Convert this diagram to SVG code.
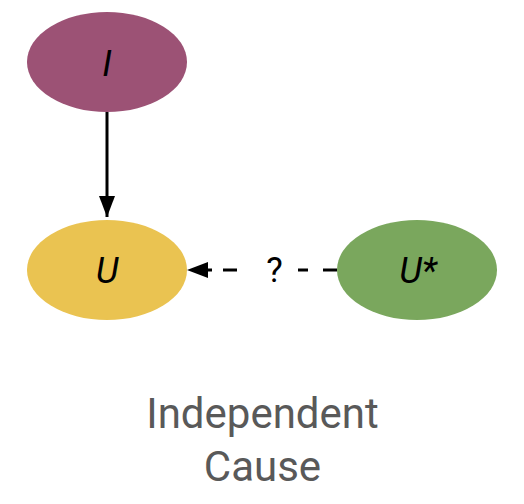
<svg xmlns="http://www.w3.org/2000/svg" width="524" height="504" viewBox="0 0 524 504">
  <defs>
    <style>
      .lbl { font-family: Roboto, "Liberation Sans", sans-serif; font-style: italic; font-size: 36px; fill: #000; text-anchor: middle; }
      .edge { stroke: #000; stroke-width: 3; fill: none; }
      .title { font-family: Roboto, "Liberation Sans", sans-serif; font-size: 42px; fill: #595959; text-anchor: middle; }
    </style>
    <marker id="arrow" viewBox="0 0 21 16" refX="21" refY="8" markerWidth="21" markerHeight="16" markerUnits="userSpaceOnUse" orient="auto">
      <polygon points="0,0 21,8 0,16" fill="#000"/>
    </marker>
  </defs>
  <rect width="524" height="504" fill="#fff"/>
  <g id="connectors">
    <line class="edge" x1="107" y1="112" x2="107" y2="217" marker-end="url(#arrow)"/>
    <path class="edge" d="M337,270H323 M308,270H298 M237,270H223 M212,270H205"/>
    <polygon points="187,270 208,262 208,278" fill="#000"/>
    <text x="274.5" y="282" font-family="Roboto, 'Liberation Sans', sans-serif" font-size="35" text-anchor="middle" fill="#000">?</text>
  </g>
  <g id="node-I">
    <ellipse cx="107" cy="62" rx="80" ry="50" fill="#9c5275"/>
    <text class="lbl" x="107" y="75.5">I</text>
  </g>
  <g id="node-U">
    <ellipse cx="107" cy="270" rx="80" ry="50" fill="#eac351"/>
    <text class="lbl" x="107" y="282.5">U</text>
  </g>
  <g id="node-Ustar">
    <ellipse cx="417" cy="270" rx="80" ry="50" fill="#7aa75d"/>
    <text class="lbl" x="418" y="282.5">U*</text>
  </g>
  <g id="caption">
    <text class="title" x="262.5" y="428">Independent</text>
    <text class="title" x="262.5" y="481">Cause</text>
  </g>
</svg>
